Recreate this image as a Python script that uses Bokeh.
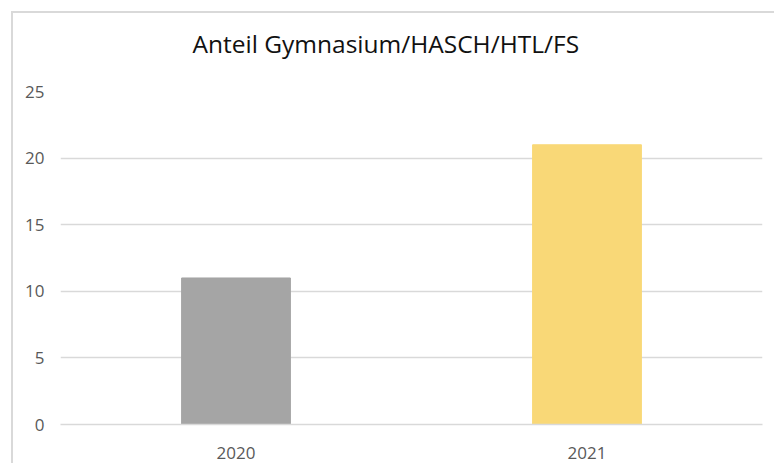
from bokeh.plotting import figure
from bokeh.models import ColumnDataSource, FactorRange, Range1d, FixedTicker, Title
from bokeh.embed import file_html
from bokeh.resources import INLINE

# Data
years = ["2020", "2021"]
values = [11, 21]
colors = ["#a5a5a5", "#f9d877"]
y_ticks = [0, 5, 10, 15, 20, 25]
title_text = "Anteil Gymnasium/HASCH/HTL/FS"

src = ColumnDataSource(dict(x=years, top=values, color=colors))

p = figure(
    x_range=FactorRange(*years, range_padding=0),
    y_range=Range1d(0, 25),
    width=763, height=452,
    output_backend="svg", toolbar_location=None,
    title_location=None,
    min_border_left=47, min_border_right=14,
    min_border_top=78, min_border_bottom=41,
)
# light chart-area frame: only its left and top edges are visible in the reference
p.styles = {
    "margin-left": "13px", "margin-top": "13px",
    "box-shadow": "-2px -2px 0 0 #d9d9d9",
}

p.vbar(x="x", top="top", width=0.31, color="color", source=src)

# spacer between the plot area and the title
spacer = Title(text=" ", text_font_size="1px", standoff=24)
p.add_layout(spacer, "above")

title = Title(text=title_text, align="left", offset=132,
              text_font="Open Sans", text_font_size="24.5px",
              text_font_style="normal", text_color="#111111", standoff=10)
p.add_layout(title, "above")

p.outline_line_color = None
p.background_fill_color = "white"
p.border_fill_color = "white"

p.xgrid.grid_line_color = None
p.ygrid.grid_line_color = "#d9d9d9"
p.ygrid.grid_line_width = 1.5
p.yaxis.ticker = FixedTicker(ticks=y_ticks)

for ax in (p.xaxis[0], p.yaxis[0]):
    ax.major_tick_line_color = None
    ax.minor_tick_line_color = None
    ax.major_tick_out = 0
    ax.major_tick_in = 0
    ax.minor_tick_out = 0
    ax.major_label_text_font = "Open Sans"
    ax.major_label_text_font_size = "17px"
    ax.major_label_text_color = "#595959"

p.yaxis.major_label_standoff = 16
p.xaxis.major_label_standoff = 22
p.yaxis.axis_line_color = None
p.xaxis.axis_line_color = "#d9d9d9"
p.xaxis.axis_line_width = 1.5

open("out.html", "w").write(file_html(p, INLINE))
